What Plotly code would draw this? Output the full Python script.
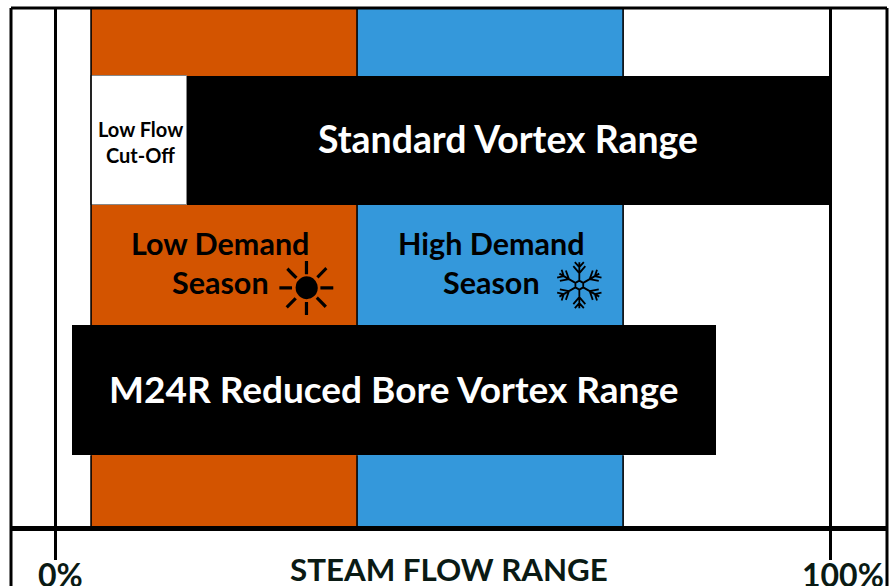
import math
import plotly.graph_objects as go

# Horizontal bands: name, start %, end %
season_names = ["Low Demand Season", "High Demand Season"]
season_start = [4.65, 38.97]
season_end = [38.97, 73.3]
season_colors = ["#D35400", "#3498DB"]

range_names = ["Low Flow Cut-Off", "Standard Vortex Range", "M24R Reduced Bore Vortex Range"]
range_start = [4.65, 17.0]
range_end = [17.0, 100.0]
m24r_start = 2.2
m24r_end = 85.3

tick_vals = [0, 100]
tick_text = ["0%", "100%"]
FONT = "Lato"

fig = go.Figure()

for n, s, e, c in zip(season_names, season_start, season_end, season_colors):
    fig.add_bar(name=n, orientation="h", y=[50], x=[e - s], base=[s], width=[100],
                marker=dict(color=c, line=dict(width=0)))

fig.add_bar(name=range_names[0], orientation="h", y=[74.4], x=[range_end[0] - range_start[0]],
            base=[range_start[0]], width=[24.9],
            marker=dict(color="white", line=dict(width=1, color="#888888")))
fig.add_bar(name=range_names[1], orientation="h", y=[74.4], x=[range_end[1] - range_start[1]],
            base=[range_start[1]], width=[24.9], marker=dict(color="black", line=dict(width=0)))
fig.add_bar(name=range_names[2], orientation="h", y=[26.2], x=[m24r_end - m24r_start],
            base=[m24r_start], width=[25.1], marker=dict(color="black", line=dict(width=0)))


def label(x, y, text, size, color="black", family=FONT):
    fig.add_annotation(x=x, y=y, xref="x", yref="y", text=text, showarrow=False,
                       font=dict(family=family, size=size, color=color), xanchor="center", yanchor="middle")


label(58.4, 74.8, "<b>Standard Vortex Range</b>", 37.4, "white")
label(43.7, 26.5, "<b>M24R Reduced Bore Vortex Range</b>", 37, "white")
label(10.97, 76.7, "<b>Low Flow</b>", 20)
label(10.97, 71.6, "<b>Cut-Off</b>", 20)
label(21.3, 54.6, "<b>Low Demand</b>", 30.5)
label(21.3, 47.2, "<b>Season</b>", 30.5)
label(56.3, 54.6, "<b>High Demand</b>", 30.5)
label(56.3, 47.2, "<b>Season</b>", 30.5)
label(32.4, 45.8, "☀", 74, family="DejaVu Sans")


def snowflake_path():
    parts = []
    r_hex, r_arm = 4.5, 23
    hexagon = [(r_hex * math.sin(math.radians(60 * i)), r_hex * math.cos(math.radians(60 * i))) for i in range(6)]
    parts.append("M" + " L".join(f"{x:.2f},{y:.2f}" for x, y in hexagon) + " Z")
    for i in range(6):
        a = math.radians(60 * i)
        ux, uy = math.sin(a), math.cos(a)
        vx, vy = uy, -ux
        parts.append(f"M{r_hex*ux:.2f},{r_hex*uy:.2f} L{r_arm*ux:.2f},{r_arm*uy:.2f}")
        for r0, back, side in [(12, -7, 6), (18, -5, 4.5)]:
            for s in (-1, 1):
                px = (r0 - back) * ux + s * side * vx
                py = (r0 - back) * uy + s * side * vy
                parts.append(f"M{r0*ux:.2f},{r0*uy:.2f} L{px:.2f},{py:.2f}")
    return " ".join(parts)


fig.add_shape(type="path", xref="x", yref="y", xsizemode="pixel", ysizemode="pixel", xanchor=67.65, yanchor=46.5,
              path=snowflake_path(), line=dict(color="black", width=1.8))

fig.add_annotation(x=0.5, y=-0.0825, xref="paper", yref="paper", text="<b>STEAM FLOW RANGE</b>", showarrow=False,
                   height=32, font=dict(family=FONT, size=31.3, color="#0a1a14"), xanchor="center", yanchor="middle")
for v, t, dx in zip(tick_vals, tick_text, [0.71, 1.7]):
    fig.add_annotation(x=v + dx, y=-0.0936, xref="x", yref="paper", text=f"<b>{t}</b>", showarrow=False,
                       height=23, font=dict(family=FONT, size=32, color="#0a1a14"), xanchor="center", yanchor="middle")

line = dict(color="black", width=3)
# frame pieces that run below the axis line
for xp in [0, 1]:
    fig.add_shape(type="line", xref="paper", yref="paper", x0=xp, x1=xp, y0=-0.2, y1=1, line=line)
fig.add_shape(type="line", xref="paper", yref="paper", x0=0, x1=1, y0=1, y1=1, line=line)

# Seams along the season band edges, only where no range bar covers them
seam_segments = {
    season_start[0]: [(0, 13.65), (38.75, 100)],
    season_start[1]: [(0, 13.65), (38.75, 61.95), (86.85, 100)],
    season_end[1]: [(0, 13.65), (38.75, 61.95), (86.85, 100)],
}
for v, segments in seam_segments.items():
    for y0, y1 in segments:
        fig.add_shape(type="line", xref="x", yref="y", x0=v, x1=v, y0=y0, y1=y1,
                      line=dict(color="black", width=1.6))

fig.update_layout(
    width=892, height=586, margin=dict(l=11, r=5, t=8, b=60, autoexpand=False), showlegend=False,
    barmode="overlay", bargap=0, paper_bgcolor="white", plot_bgcolor="white",
    xaxis=dict(range=[-5.68, 107.35], tickvals=tick_vals, ticktext=["", ""], ticks="outside", automargin=False,
               ticklen=29, tickwidth=3, tickcolor="black", showgrid=True, gridcolor="black", gridwidth=3,
               showline=True, linecolor="black", linewidth=5, zeroline=False),
    yaxis=dict(range=[0, 100], showticklabels=False, ticks="", showgrid=False, zeroline=False, showline=False,
               automargin=False),
)
fig.write_html("out.html", config={"displayModeBar": False},
               post_script="document.body.style.margin='0';document.documentElement.style.overflow='hidden';")
